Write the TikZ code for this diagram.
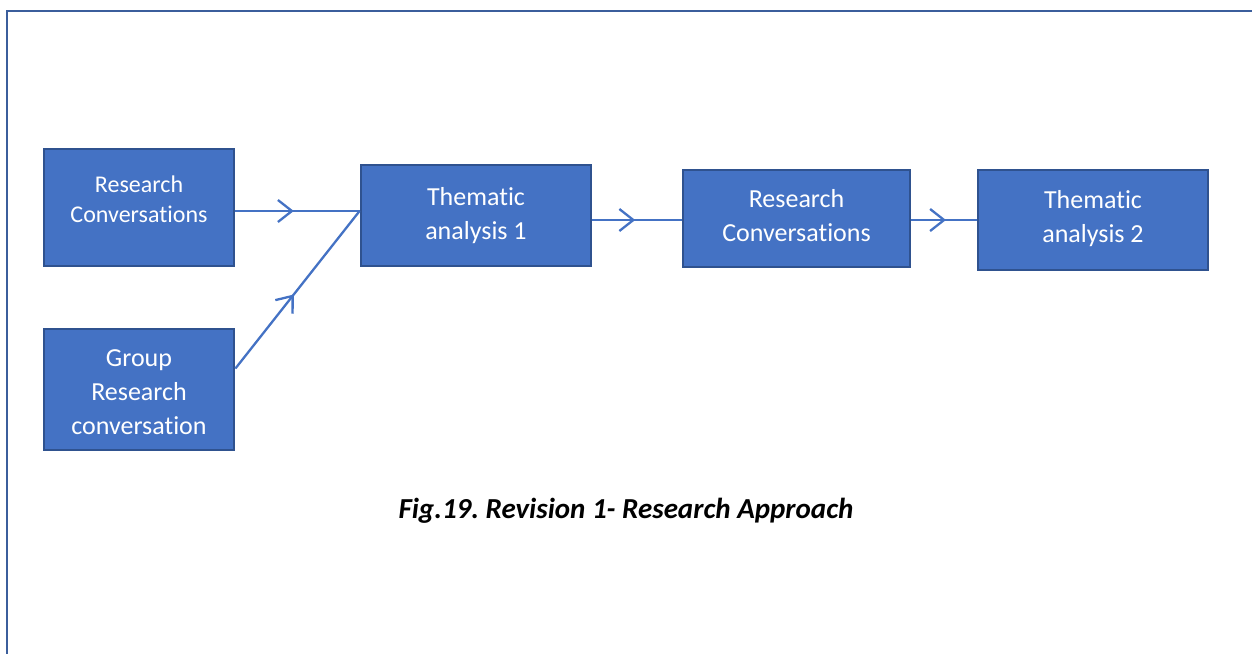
\documentclass[tikz,border=0pt]{standalone}
\usepackage{fontspec}
\setmainfont{Carlito}[Ligatures={NoCommon}]
\usetikzlibrary{arrows.meta,decorations.markings,calc}
\definecolor{boxfill}{HTML}{4472C4}
\definecolor{boxedge}{HTML}{2F528F}
\definecolor{framecol}{HTML}{3B5E9C}
\frenchspacing
\tikzset{
  box/.style={draw=boxedge, line width=2.8pt, fill=boxfill, inner sep=0pt,
    text=white, align=center, font=\fontsize{26}{34}\selectfont},
  boxtext/.style={text=white, align=center, font=\fontsize{26}{34}\selectfont},
  conn/.style={draw=boxfill, line width=2.3pt,
    postaction={decorate},
    decoration={markings, mark=at position #1 with
      {\arrow[boxfill, line width=2.3pt]{Straight Barb[length=14pt,width=22pt]}}}},
  conn/.default=0.5
}
\begin{document}
\begin{tikzpicture}[x=1pt,y=-1pt]
  \useasboundingbox (0,0) rectangle (1252,653);
  % outer frame, running off the page to the right and bottom
  \draw[framecol, line width=2.8pt] (7,700) -- (7,11) -- (1300,11);

  % process boxes and their labels
  \node[box, minimum width=190pt, minimum height=117pt] (a) at (139,207.5) {};
  \node[boxtext, font=\fontsize{24}{30}\selectfont] (atext)
        at (139,199) {Research\\Conversations};
  \node[box, minimum width=190pt, minimum height=121pt] (b) at (139,389.5) {};
  \node[boxtext] (btext) at (139,392.5) {Group\\Research\\conversation};
  \node[box, minimum width=230pt, minimum height=101pt] (c) at (476,215.5)
        {Thematic\\analysis 1};
  \node[box, minimum width=227pt, minimum height=97pt] (d) at (796.5,218.5) {};
  \node[boxtext] (dtext) at (796.5,215.5) {Research\\Conversations};
  \node[box, minimum width=230pt, minimum height=100pt] (e) at (1093,220) {};
  \node[boxtext] (etext) at (1093,218.5) {Thematic\\analysis 2};

  % connectors with mid-line arrowheads
  \coordinate (cin) at ($(c.west)+(0,-4.5)$);
  \draw[conn=0.47] ($(a.east)+(0,3.5)$) -- (cin);
  \draw[conn=0.47] ($(b.east)+(0,-21)$) -- (cin);
  \draw[conn=0.48] ($(c.east)+(0,4.5)$) -- ($(d.west)+(0,1.5)$);
  \draw[conn=0.53] ($(d.east)+(0,1.5)$) -- (e.west);

  % caption
  \node[anchor=base, font=\fontsize{29}{32}\selectfont\bfseries\itshape] (cap)
        at (626,518) {Fig.19. Revision 1- Research Approach};
\end{tikzpicture}
\end{document}
